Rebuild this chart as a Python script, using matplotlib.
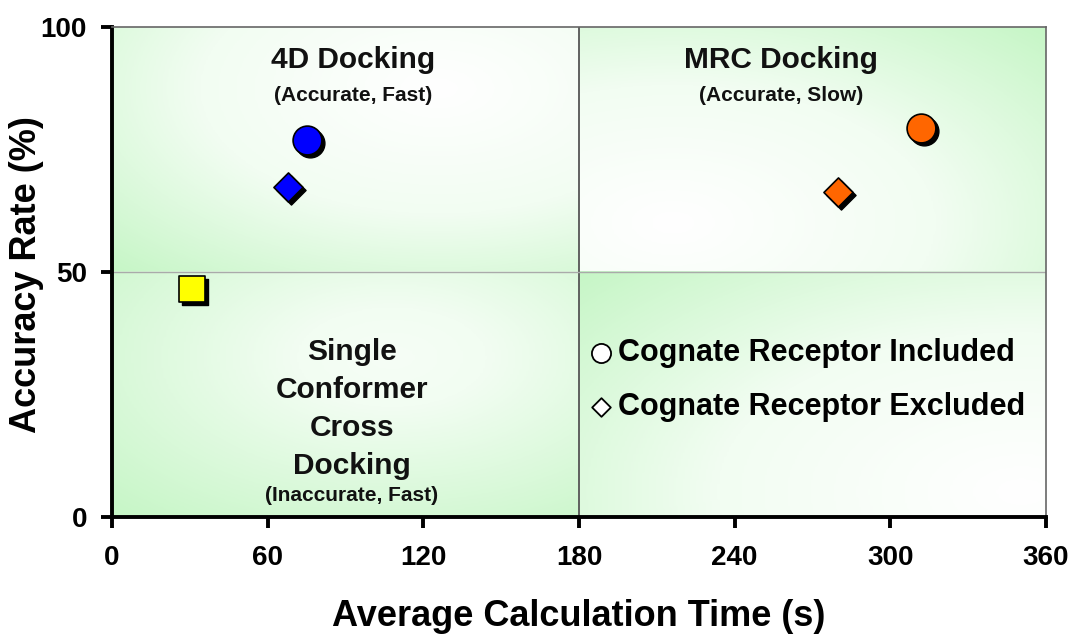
import numpy as np
import matplotlib
matplotlib.use("Agg")
import matplotlib.pyplot as plt
import matplotlib.transforms as mtransforms
from matplotlib.colors import LinearSegmentedColormap

plt.rcParams['font.family'] = ['Liberation Sans', 'DejaVu Sans']

# data
labels = ["4D Docking (included)", "4D Docking (excluded)", "Single conformer",
          "MRC Docking (included)", "MRC Docking (excluded)"]
calc_time = [75, 68, 31, 312, 280]
accuracy = [77.0, 67.3, 46.6, 79.3, 66.4]
markers = ["o", "D", "s", "o", "D"]
colors = ["#0000ff", "#0000ff", "#ffff00", "#ff6600", "#ff6600"]
sizes = [430, 220, 330, 430, 220]
xticks = [0, 60, 120, 180, 240, 300, 360]
yticks = [0, 50, 100]

W, H = 1079, 637
fig = plt.figure(figsize=(W / 100, H / 100), dpi=100)
ax = fig.add_axes([112 / W, 1 - 517 / H, (1046 - 112) / W, (517 - 27) / H])
ax.set_xlim(0, 360)
ax.set_ylim(0, 100)

# quadrant gradient background (white centre -> light green edges)
cmap = LinearSegmentedColormap.from_list("g", ["#ffffff", "#f2fdf2", "#c6f6c6"])
n = 200
u = np.linspace(0, 1, n)
U, V = np.meshgrid(u, u)
quads = [((0, 180), (50, 100), (0.7, 0.75), 0.0),
         ((180, 360), (50, 100), (0.2, 0.2), 0.0),
         ((0, 180), (0, 50), (0.6, 0.65), 0.35),
         ((180, 360), (0, 50), (0.95, 0.1), 0.0)]
for (x0, x1), (y0, y1), (cx, cy), lo in quads:
    R = np.sqrt((U - cx) ** 2 + (V - cy) ** 2)
    R = lo + (1 - lo) * R / R.max()
    ax.imshow(R, cmap=cmap, vmin=0, vmax=1, extent=[x0, x1, y0, y1],
              origin="lower", aspect="auto", zorder=0, interpolation="bilinear")

ax.axvline(180, color="#555555", lw=1.3, zorder=1)
ax.axhline(50, color="#aaaaaa", lw=1.0, zorder=1)

shadow = mtransforms.offset_copy(ax.transData, fig=fig, x=3, y=-3, units="dots")
for x, y, m, c, s in zip(calc_time, accuracy, markers, colors, sizes):
    ax.scatter([x], [y], marker=m, s=s, color="black", transform=shadow, zorder=2)
    ax.scatter([x], [y], marker=m, s=s, color=c, edgecolor="black", linewidth=1.2, zorder=3)

for sp in ["top", "right"]:
    ax.spines[sp].set_linewidth(1.2)
    ax.spines[sp].set_color("#666666")
for sp in ["left", "bottom"]:
    ax.spines[sp].set_linewidth(2.8)
ax.set_xticks(xticks)
ax.set_yticks(yticks)
ax.tick_params(direction="out", length=8, width=2.8, labelsize=20, pad=12)
ax.tick_params(axis="y", pad=10)
for lab in ax.get_xticklabels() + ax.get_yticklabels():
    lab.set_fontweight("bold")

ax.set_xlabel("Average Calculation Time (s)", fontsize=26, fontweight="bold", labelpad=20)
ax.set_ylabel("Accuracy Rate (%)", fontsize=26, fontweight="bold")
ax.yaxis.set_label_coords(-0.073, 0.494)

tk = dict(ha="center", va="center", fontweight="bold", color="#111111")
ax.text(93, 93.2, "4D Docking", fontsize=21.5, **tk)
ax.text(93, 86.0, "(Accurate, Fast)", fontsize=15, **tk)
ax.text(258, 93.2, "MRC Docking", fontsize=21.5, **tk)
ax.text(258, 86.0, "(Accurate, Slow)", fontsize=15, **tk)
for i, line in enumerate(["Single", "Conformer", "Cross", "Docking"]):
    ax.text(92.5, 33.6 - i * 7.7, line, fontsize=21.5, **tk)
ax.text(92.5, 4.4, "(Inaccurate, Fast)", fontsize=15, **tk)

ax.scatter([188.5], [33.4], marker="o", s=190, facecolor="white", edgecolor="black", linewidth=1.3, zorder=3)
ax.scatter([188.5], [22.4], marker="D", s=90, facecolor="white", edgecolor="black", linewidth=1.3, zorder=3)
ax.text(195, 33.4, "Cognate Receptor Included", fontsize=22, ha="left", va="center", fontweight="bold")
ax.text(195, 22.4, "Cognate Receptor Excluded", fontsize=22, ha="left", va="center", fontweight="bold")

fig.savefig("out.png", dpi=100)
